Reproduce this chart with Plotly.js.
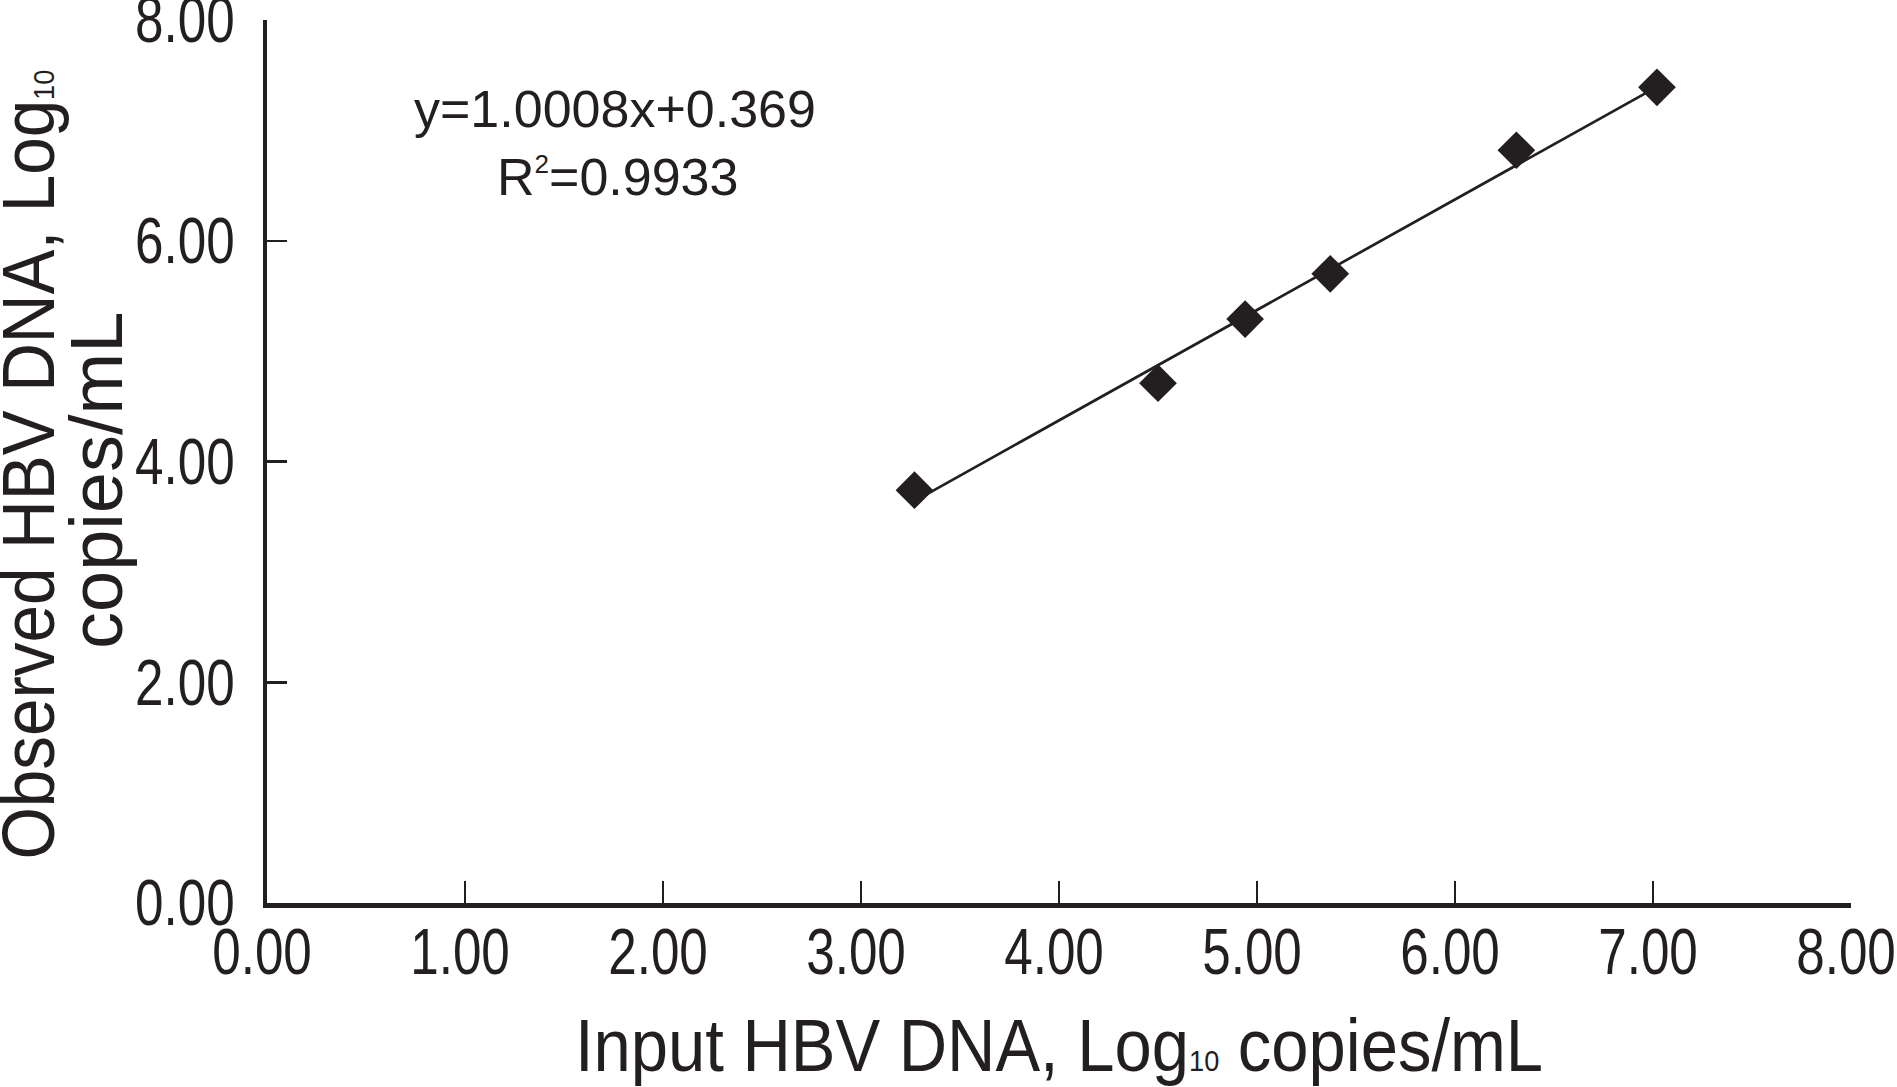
<!DOCTYPE html>
<html>
<head>
<meta charset="utf-8">
<script src="https://cdn.plot.ly/plotly-3.0.1.min.js"></script>
<style>
  html, body { margin: 0; padding: 0; background: #ffffff; }
  #chart { width: 1897px; height: 1087px; }
</style>
</head>
<body>
<div id="chart"></div>
<script>
// ---- data ----
const inputLog = [3.27, 4.50, 4.94, 5.37, 6.31, 7.02];
const observedLog = [3.74, 4.71, 5.29, 5.70, 6.82, 7.39];
const fitSlope = 1.0008;
const fitIntercept = 0.369;
const fitR2 = 0.9933;
const xTickValues = [0, 1, 2, 3, 4, 5, 6, 7, 8];
const yTickValues = [0, 2, 4, 6, 8];
const xTickLabels = ["0.00", "1.00", "2.00", "3.00", "4.00", "5.00", "6.00", "7.00", "8.00"];
const yTickLabels = ["0.00", "2.00", "4.00", "6.00", "8.00"];
const xTitleText = "Input HBV DNA, Log<span style=\"font-size:30px\">10</span> copies/mL";
const yTitleLine1 = "Observed HBV DNA, Log<span style=\"font-size:30px\">10</span>";
const yTitleLine2 = "copies/mL";

const ink = "#231f20";
const sans = "'Liberation Sans', Arial, Helvetica, sans-serif";

const xMin = Math.min(...inputLog);
const xMax = Math.max(...inputLog);
const fitX = [xMin, xMax];
const fitY = fitX.map(v => fitSlope * v + fitIntercept);

const traces = [
  {
    x: fitX, y: fitY, type: "scatter", mode: "lines",
    line: { color: ink, width: 2.7 }, hoverinfo: "skip", showlegend: false
  },
  {
    x: inputLog, y: observedLog, type: "scatter", mode: "markers",
    marker: { symbol: "diamond", size: 29, color: ink, line: { width: 0 } },
    showlegend: false
  }
];

const layout = {
  width: 1897, height: 1087,
  paper_bgcolor: "#ffffff", plot_bgcolor: "#ffffff",
  margin: { l: 267, r: 46, t: 20, b: 184, pad: 0 },
  font: { family: sans, color: ink },
  showlegend: false,
  xaxis: {
    range: [0, 8], autorange: false,
    tickvals: xTickValues, ticktext: xTickLabels,
    ticks: "inside", ticklen: 22, tickwidth: 2.5, tickcolor: ink,
    showline: true, linecolor: ink, linewidth: 4.5,
    showgrid: false, zeroline: false,
    tickfont: { family: sans, size: 64, color: ink },
    ticklabelstandoff: -10,
    ticklabelshift: -5,
    ticklabeloverflow: "allow",
    title: {
      text: xTitleText,
      font: { family: sans, size: 74, color: ink },
      standoff: 50
    }
  },
  yaxis: {
    range: [0, 8], autorange: false,
    tickvals: yTickValues, ticktext: yTickLabels,
    ticks: "inside", ticklen: 20, tickwidth: 2.5, tickcolor: ink,
    showline: true, linecolor: ink, linewidth: 4.5,
    showgrid: false, zeroline: false,
    tickfont: { family: sans, size: 64, color: ink },
    ticklabelstandoff: 15,
    ticklabeloverflow: "allow",
    title: {
      text: yTitleLine1,
      font: { family: sans, size: 74, color: ink },
      standoff: 52
    }
  },
  annotations: [
    {
      xref: "paper", yref: "paper", x: -0.108, y: 0.479, showarrow: false,
      text: yTitleLine2, textangle: -90,
      font: { family: sans, size: 74, color: ink },
      xanchor: "center", yanchor: "middle"
    },
    {
      xref: "x", yref: "y", x: 1.76, y: 7.19, showarrow: false,
      text: "y=" + fitSlope.toFixed(4) + "x+" + fitIntercept.toFixed(3),
      font: { family: sans, size: 52, color: ink },
      xanchor: "center", yanchor: "middle"
    },
    {
      xref: "x", yref: "y", x: 1.77, y: 6.58, showarrow: false,
      text: "R<sup><span style=\"font-size:26px\">2</span></sup>=" + fitR2.toFixed(4),
      font: { family: sans, size: 52, color: ink },
      xanchor: "center", yanchor: "middle"
    }
  ]
};

// horizontal condensing of text, imitating the condensed face of the original
function squeeze(selector, factor, dx, dy) {
  document.querySelectorAll(selector).forEach(t => {
    const x = parseFloat(t.getAttribute("x")) || 0;
    const y = parseFloat(t.getAttribute("y")) || 0;
    const base = t.getAttribute("transform") || "";
    const shift = (dx || dy) ? "translate(" + (dx || 0) + "," + (dy || 0) + ") " : "";
    t.setAttribute("transform",
      shift + base + " translate(" + x + "," + y + ") scale(" + factor + ",1) translate(" + (-x) + "," + (-y) + ")");
  });
}

Plotly.newPlot("chart", traces, layout, { displayModeBar: false, staticPlot: true }).then(() => {
  squeeze("#chart .xtick text", 0.8);
  squeeze("#chart .ytick text", 0.8);
  squeeze("#chart .g-xtitle text", 0.905);
  squeeze("#chart .g-ytitle text", 0.91, -13, 3);
});
</script>
</body>
</html>
